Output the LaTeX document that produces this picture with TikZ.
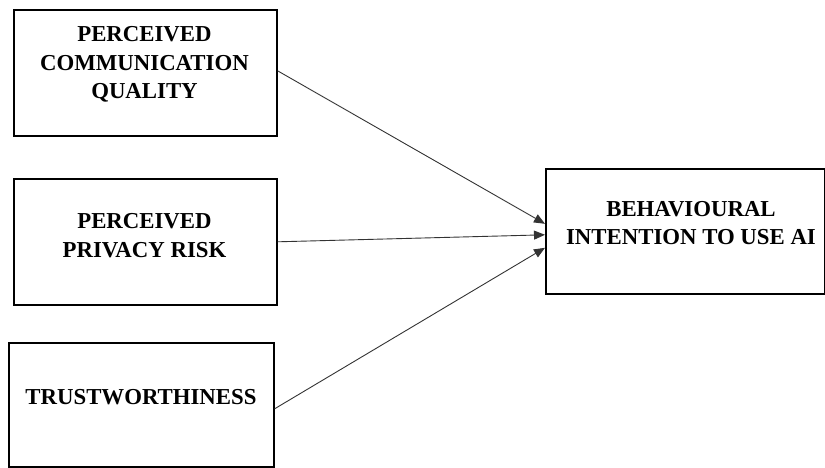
\documentclass[tikz,border=0pt]{standalone}
\usepackage{fontspec}
\setmainfont{Liberation Serif}
\usetikzlibrary{arrows.meta,calc}
\begin{document}
\begin{tikzpicture}[x=1pt,y=-1pt,
  box/.style={draw=black,line width=1.6pt,inner sep=0pt,anchor=north west},
  lbl/.style={font=\fontsize{22.8}{28.5}\selectfont\bfseries,align=center,inner sep=0pt},
  conn/.style={draw=black!80,line width=0.9pt,-{Triangle[length=11pt,width=9pt]}}]
\useasboundingbox (0,0) rectangle (825,467);
\node[box,minimum width=263pt,minimum height=126pt] (a) at (13,9) {};
\node[box,minimum width=263pt,minimum height=126pt] (b) at (13,178) {};
\node[box,minimum width=265pt,minimum height=124pt] (c) at (8,342) {};
\node[box,minimum width=279pt,minimum height=125pt] (d) at (545,168) {};
\node[lbl] (ta) at (144.5,64.5) {PERCEIVED\\COMMUNICATION\\QUALITY};
\node[lbl] (tb) at (144.5,235.5) {PERCEIVED\\PRIVACY RISK};
\node[lbl] (tc) at (141,397) {TRUSTWORTHINESS};
\node[lbl] (td) at (691,223) {BEHAVIOURAL\\INTENTION TO USE AI};
\coordinate (d1) at ($(d.west)+(0,-7.5)$);
\coordinate (d2) at ($(d.west)+(0,3.5)$);
\coordinate (d3) at ($(d.west)+(0,16.5)$);
\draw[conn] ($(a.east)+(0,-2)$) -- (d1);
\draw[conn] (b.east) -- (d2);
\draw[conn] ($(c.east)+(0,4)$) -- (d3);
\end{tikzpicture}
\end{document}
